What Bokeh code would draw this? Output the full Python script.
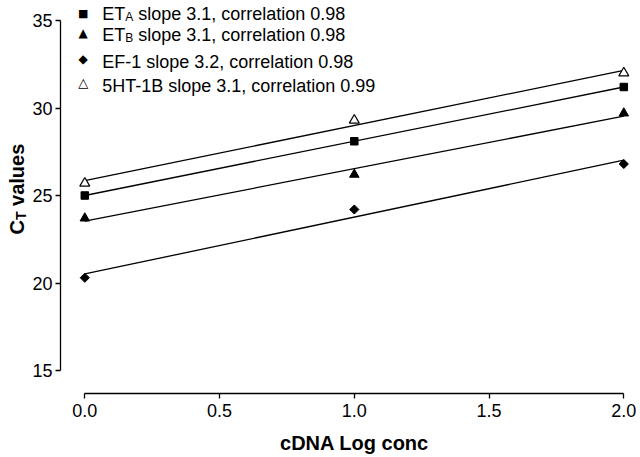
import numpy as np
from bokeh.plotting import figure
from bokeh.models import Label, FixedTicker, NumeralTickFormatter
from bokeh.embed import file_html
from bokeh.resources import INLINE

# ---- data ----
log_conc = [0.0, 1.0, 2.0]
et_a = [25.0, 28.1, 31.2]
et_b = [23.7, 26.2, 29.7]
ef_1 = [20.3, 24.2, 26.8]
ht_1b = [25.7, 29.3, 32.0]
x_ticks = [0.0, 0.5, 1.0, 1.5, 2.0]
y_ticks = [15, 20, 25, 30, 35]
legend_rows = [
    ("\u25A0", "ET", "A", "slope 3.1, correlation 0.98"),
    ("\u25B2", "ET", "B", "slope 3.1, correlation 0.98"),
    ("\u25C6", "EF-1 slope 3.2, correlation 0.98", "", ""),
    ("\u25B3", "5HT-1B slope 3.1, correlation 0.99", "", ""),
]

FONT = "Liberation Sans"
W, H = 640, 457

# frame covers the whole canvas; axes are placed at fixed locations inside it
PX_X0, PX_PER_X = 84.3, 269.5      # page x of x=0, pixels per x unit
PX_Y15, PX_PER_Y = 370.0, 17.5     # page y of y=15, pixels per y unit
def data_x(px):
    return (px - PX_X0) / PX_PER_X
def data_y(py):
    return 15 + (PX_Y15 - py) / PX_PER_Y

p = figure(width=W, height=H, output_backend="svg", toolbar_location=None,
           x_range=(data_x(0), data_x(W)), y_range=(data_y(H), data_y(0)),
           min_border=0)
p.outline_line_color = None
p.xgrid.visible = False
p.ygrid.visible = False
p.background_fill_color = "white"
p.border_fill_color = "white"

for ax in (p.xaxis[0], p.yaxis[0]):
    ax.axis_line_width = 1.3
    ax.axis_line_color = "black"
    ax.major_tick_line_width = 1.3
    ax.major_tick_line_color = "black"
    ax.major_tick_in = 0
    ax.major_tick_out = 5
    ax.minor_tick_line_color = None
    ax.major_label_text_font = FONT
    ax.major_label_text_font_size = "18px"
    ax.major_label_text_color = "black"

p.xaxis[0].ticker = FixedTicker(ticks=x_ticks)
p.yaxis[0].ticker = FixedTicker(ticks=y_ticks)
p.xaxis[0].formatter = NumeralTickFormatter(format="0.0")
p.xaxis[0].bounds = (x_ticks[0], x_ticks[-1])
p.yaxis[0].bounds = (y_ticks[0], y_ticks[-1])
p.xaxis[0].major_label_standoff = 5
p.yaxis[0].major_label_standoff = 3
p.xaxis[0].fixed_location = data_y(393)
p.yaxis[0].fixed_location = data_x(60)

# fitted lines
xs = np.array(log_conc)
for ser in (ht_1b, et_a, et_b, ef_1):
    b, a = np.polyfit(xs, np.array(ser), 1)
    p.line([xs[0], xs[-1]], [a + b * xs[0], a + b * xs[-1]], line_color="black", line_width=1.3)

p.scatter(log_conc, et_a, marker="square", size=7.5, color="black")
p.scatter(log_conc, et_b, marker="triangle", size=9.5, color="black")
p.scatter(log_conc, ef_1, marker="square", angle=np.pi / 4, size=6.5, color="black")
p.scatter(log_conc, ht_1b, marker="triangle", size=10, fill_color="white",
          line_color="black", line_width=1.2)

# ---- screen positions (frame == canvas) ----
def sx(px):
    return px
def sy(py):
    return H - py

ARIAL_W = {"E": 0.667, "T": 0.611, "A": 0.667, "B": 0.667, "C": 0.722, " ": 0.278}
def width(s, size):
    return sum(ARIAL_W[c] for c in s) * size

def add_label(x, y, text, size, **kw):
    opts = dict(x_units="screen", y_units="screen", text_font=FONT,
                text_baseline="alphabetic", text_color="black")
    opts.update(kw)
    p.add_layout(Label(x=x, y=y, text=text, text_font_size=size, **opts))

SHIFT = 5.5  # rendered baseline sits lower than requested by about this much
baselines = [18.5, 39.5, 67, 91]
marker_y = [13.3, 32.3, 58.5, 82.2]
marker_sizes = ["11px", "12px", "12px", "13px"]
for (mk, main, sub, rest), base, my, msz in zip(legend_rows, baselines, marker_y, marker_sizes):
    add_label(sx(82.7), sy(my), mk, msz, text_font="DejaVu Sans",
              text_align="center", text_baseline="middle")
    x0 = 101.7
    b = base - SHIFT
    add_label(sx(x0), sy(b), main, "18px")
    if sub:
        xs_sub = x0 + width(main, 18)
        add_label(sx(xs_sub), sy(b + 3), sub, "12px")
        add_label(sx(xs_sub + width(sub, 12) + width(" ", 18)), sy(b), rest, "18px")

# ---- y axis label: C_T values (rotated) ----
YF = 20
y_lab_base_x = 23 - 7
y_lab_start = 234
add_label(sx(y_lab_base_x), sy(y_lab_start), "C", f"{YF}px", angle=np.pi / 2,
          text_font_style="bold")
t_start = y_lab_start - width("C", YF)
add_label(sx(y_lab_base_x + 4), sy(t_start), "T", "14px", angle=np.pi / 2,
          text_font_style="bold")
v_start = t_start - width("T", 14) - width(" ", YF)
add_label(sx(y_lab_base_x), sy(v_start), "values", f"{YF}px", angle=np.pi / 2,
          text_font_style="bold")

# ---- x axis label ----
add_label(sx(354), sy(449.5 - 7), "cDNA Log conc", "20px", text_font_style="bold",
          text_align="center")

open("out.html", "w").write(file_html(p, INLINE))
